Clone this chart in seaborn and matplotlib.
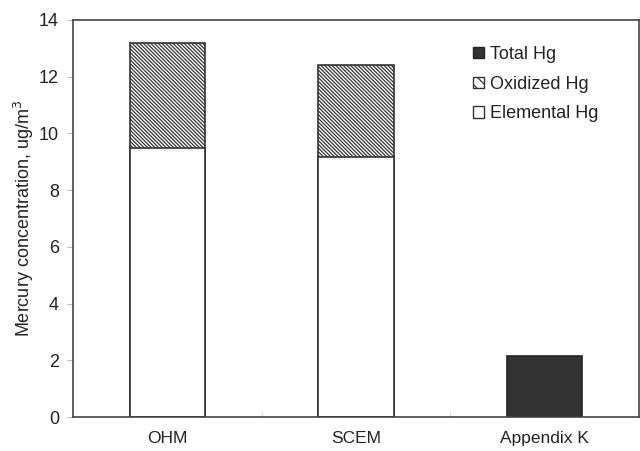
import numpy as np
import pandas as pd
import matplotlib
matplotlib.use("Agg")
import matplotlib.pyplot as plt
from matplotlib.patches import Patch
from matplotlib.ticker import FixedLocator
import seaborn as sns

# Mercury speciation by measurement method (ug/m3)
categories = ["OHM", "SCEM", "Appendix K"]
elemental_hg = [9.47, 9.17, np.nan]
oxidized_hg = [3.72, 3.24, np.nan]
total_hg = [np.nan, np.nan, 2.15]

sns.set_style("white")
plt.rcParams["font.family"] = ["Liberation Sans", "DejaVu Sans"]
plt.rcParams["hatch.linewidth"] = 0.9
plt.rcParams["hatch.color"] = "#555555"

df = pd.DataFrame({
    "method": categories,
    "elemental": elemental_hg,
    "oxidized": oxidized_hg,
    "total": total_hg,
})
df["stack_top"] = df["elemental"] + df["oxidized"]

fig, ax = plt.subplots(figsize=(6.4, 4.51), dpi=100)
fig.subplots_adjust(left=0.114, right=0.998, top=0.956, bottom=0.075)

edge = "#333333"
bar_w = 0.4
dense_hatch = "\\" * 9

# Oxidized portion: full stack height, hatched
sns.barplot(data=df, x="method", y="stack_top", order=categories, ax=ax,
            width=bar_w, color="white", edgecolor=edge, linewidth=1.2,
            hatch=dense_hatch, errorbar=None)
n_hatched = len(ax.patches)
# Elemental portion drawn over the lower part of the stack
sns.barplot(data=df, x="method", y="elemental", order=categories, ax=ax,
            width=bar_w, color="white", edgecolor=edge, linewidth=1.2,
            errorbar=None)
# Total mercury (Appendix K)
sns.barplot(data=df, x="method", y="total", order=categories, ax=ax,
            width=bar_w, color="#333333", edgecolor="#222222", linewidth=1.2,
            errorbar=None)
for p in ax.patches[n_hatched:]:
    p.set_hatch(None)

ax.set_xlim(-0.5, 2.5)
ax.set_ylim(0, 14)
ax.set_yticks(np.arange(0, 15, 2))
ax.set_xlabel("")
ax.set_ylabel("Mercury concentration, ug/m$^3$", fontsize=13, color="#222222",
              labelpad=2)

ax.tick_params(axis="y", which="major", direction="out", length=4, width=0.8,
               color="#bbbbbb", labelsize=13, labelcolor="#222222", left=True,
               pad=6)
ax.tick_params(axis="x", which="major", length=0, labelsize=12.5,
               labelcolor="#222222", pad=10)
ax.xaxis.set_minor_locator(FixedLocator([0.5, 1.5]))
ax.tick_params(axis="x", which="minor", direction="in", length=4, width=0.8,
               color="#dddddd", bottom=True)

for s in ax.spines.values():
    s.set_visible(True)
    s.set_color("#444444")
    s.set_linewidth(1.2)

handles = [
    Patch(facecolor="#333333", edgecolor="#222222", label="Total Hg"),
    Patch(facecolor="white", edgecolor=edge, hatch="\\\\\\", label="Oxidized Hg"),
    Patch(facecolor="white", edgecolor=edge, label="Elemental Hg"),
]
ax.legend(handles=handles, loc="upper left", bbox_to_anchor=(0.678, 0.975),
          frameon=False, fontsize=13, handlelength=0.6, handleheight=0.6,
          handletextpad=0.35, labelspacing=0.7, labelcolor="#222222")

fig.savefig("out.png", dpi=100)
